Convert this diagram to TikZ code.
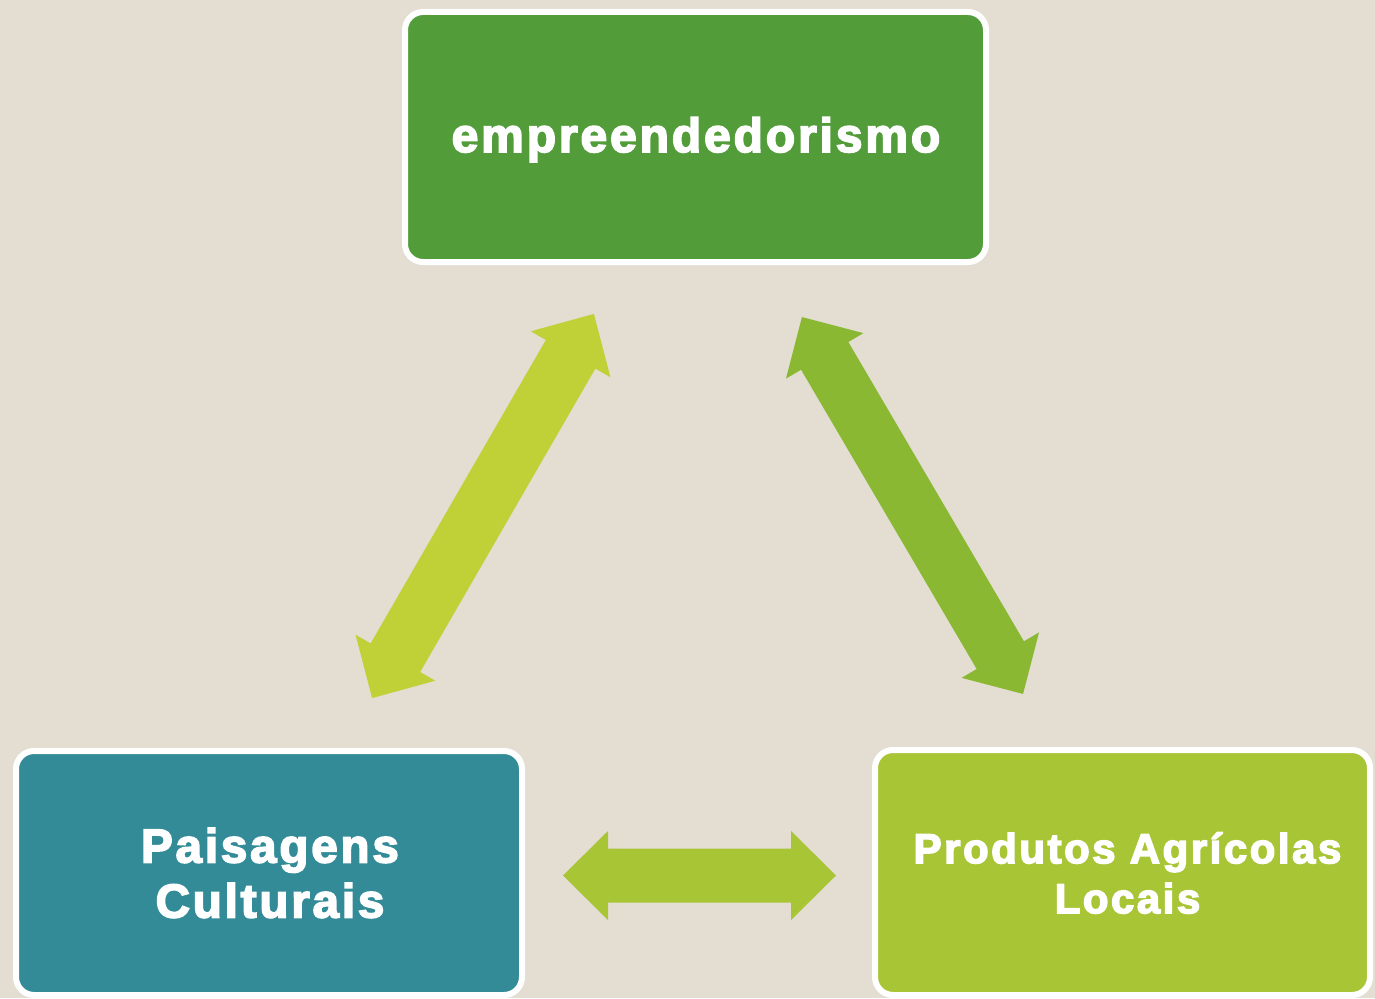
\documentclass[tikz,border=0pt]{standalone}
\usepackage{fontspec}
\newfontfamily\heavy{Liberation Sans}[UprightFont={* Bold}, LetterSpace=6, FakeBold=3.5]
\definecolor{bg}{HTML}{E3DDD2}
\definecolor{topgreen}{HTML}{529D3A}
\definecolor{teal}{HTML}{338B98}
\definecolor{lime}{HTML}{A8C536}
\definecolor{arrowA}{HTML}{C0D137}
\definecolor{arrowB}{HTML}{8AB833}
\definecolor{arrowC}{HTML}{A8C536}
% cx, cy, angle, length, shaft half width, head half width, head length, colour
\newcommand\blockarrow[8]{%
  \fill[#8, shift={(#1,#2)}, rotate=#3]
    ({#4/2},0) -- ({#4/2-#7},#6) -- ({#4/2-#7},#5) -- ({-#4/2+#7},#5)
    -- ({-#4/2+#7},#6) -- ({-#4/2},0) -- ({-#4/2+#7},-#6) -- ({-#4/2+#7},-#5)
    -- ({#4/2-#7},-#5) -- ({#4/2-#7},-#6) -- cycle;}
\tikzset{
  box/.style={draw=white, line width=6pt, rounded corners=18pt, inner sep=0pt},
  label/.style={text=white, align=center, inner sep=0pt}
}
\begin{document}
\begin{tikzpicture}[x=1pt,y=-1pt]
\fill[bg] (0,0) rectangle (1375,998);
\useasboundingbox (0,0) rectangle (1375,998);
% boxes
\node[box, fill=topgreen, minimum width=581pt, minimum height=250pt] (emp) at (695.5,137) {};
\node[box, fill=teal, minimum width=506pt, minimum height=244pt] (pais) at (269,873) {};
\node[box, fill=lime, minimum width=495pt, minimum height=245pt] (prod) at (1122.5,872.5) {};
% texts
\node[label, anchor=base, font={\heavy\fontsize{48}{56}\selectfont}] (tEmp) at (696,152) {empreendedorismo};
\node[label, font={\heavy\fontsize{47.5}{55}\selectfont}] (tPais) at (270,873) {Paisagens\\Culturais};
\node[label, font={\heavy\fontsize{42}{50}\selectfont}] (tProd) at (1127.5,873) {Produtos Agrícolas\\Locais};
% block arrows
\blockarrow{483}{506}{60}{443.6}{28.6}{46}{46.6}{arrowA}
\blockarrow{912.5}{505.5}{-59.6}{437}{27.4}{44.9}{45}{arrowB}
\blockarrow{699.5}{875.5}{0}{273}{27}{44.5}{45}{arrowC}
\end{tikzpicture}
\end{document}
